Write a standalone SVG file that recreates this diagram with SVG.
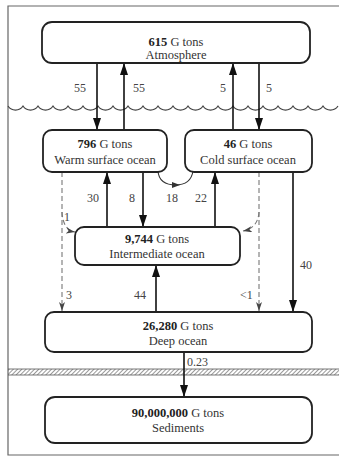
<svg xmlns="http://www.w3.org/2000/svg" width="339" height="456" viewBox="0 0 339 456">
<defs>
<style>
.box{fill:#fff;stroke:#222;stroke-width:1.8}
.t{font-family:"Liberation Serif","DejaVu Serif",serif;font-size:12.5px;fill:#333;text-anchor:middle}
.t b,.b{font-weight:bold;fill:#222}
.lab{font-family:"Liberation Serif","DejaVu Serif",serif;font-size:12px;fill:#444}
.ar{stroke:#111;stroke-width:1.6;fill:none;marker-end:url(#ah)}
.ds{stroke:#777;stroke-width:1.1;stroke-dasharray:5,3;fill:none;marker-end:url(#oh)}
.cv{stroke:#333;stroke-width:1.1;fill:none}
</style>
<marker id="ah" viewBox="0 0 12 8" refX="12" refY="4" markerWidth="12" markerHeight="9" markerUnits="userSpaceOnUse" orient="auto"><path d="M0,0 L12,4 L0,8 z" fill="#111"/></marker>
<marker id="oh" viewBox="0 0 9 6" refX="9" refY="3" markerWidth="9" markerHeight="6" markerUnits="userSpaceOnUse" orient="auto"><path d="M0,0 L9,3 L0,6 L2.5,3 z" fill="#444"/></marker>
<marker id="sh" viewBox="0 0 8 6" refX="4" refY="3" markerWidth="8" markerHeight="6" markerUnits="userSpaceOnUse" orient="auto"><path d="M0,0 L8,3 L0,6 z" fill="#333"/></marker>
<pattern id="hatch" patternUnits="userSpaceOnUse" width="3" height="3" patternTransform="rotate(45)"><line x1="0" y1="0" x2="0" y2="3" stroke="#555" stroke-width="1.2"/></pattern>
</defs>
<g id="frame">
<path d="M339,6 H8 V455 H339" fill="none" stroke="#666" stroke-width="1.2"/>
</g>
<g id="waves">
<path d="M8,106 a9,9 0 0 0 15,0 a9,9 0 0 0 15,0 a9,9 0 0 0 15,0 a9,9 0 0 0 15,0 a9,9 0 0 0 15,0 a9,9 0 0 0 15,0 a9,9 0 0 0 15,0 a9,9 0 0 0 15,0 a9,9 0 0 0 15,0 a9,9 0 0 0 15,0 a9,9 0 0 0 15,0 a9,9 0 0 0 15,0 a9,9 0 0 0 15,0 a9,9 0 0 0 15,0 a9,9 0 0 0 15,0 a9,9 0 0 0 15,0 a9,9 0 0 0 15,0 a9,9 0 0 0 15,0 a9,9 0 0 0 15,0 a9,9 0 0 0 15,0 a9,9 0 0 0 15,0 a9,9 0 0 0 15,0" fill="none" stroke="#444" stroke-width="1.2"/>
</g>
<g id="seabed">
<rect x="8" y="369" width="331" height="6" fill="url(#hatch)"/>
<line x1="8" y1="369" x2="339" y2="369" stroke="#555" stroke-width="0.8"/>
<line x1="8" y1="375" x2="339" y2="375" stroke="#555" stroke-width="0.8"/>
</g>
<g id="connectors">
<line class="ar" x1="97" y1="63" x2="97" y2="130"/>
<line class="ar" x1="124" y1="130" x2="124" y2="63"/>
<line class="ar" x1="233" y1="130" x2="233" y2="63"/>
<line class="ar" x1="259" y1="63" x2="259" y2="130"/>
<line class="ar" x1="107" y1="227" x2="107" y2="172"/>
<line class="ar" x1="143" y1="172" x2="143" y2="227"/>
<line class="ar" x1="215" y1="227" x2="215" y2="172"/>
<line class="ar" x1="293" y1="172" x2="293" y2="312"/>
<line class="ar" x1="156" y1="312" x2="156" y2="265"/>
<line class="ar" x1="184" y1="352" x2="184" y2="397"/>
<path class="cv" d="M158,171 Q159,185 176,185" marker-end="url(#sh)"/>
<path class="cv" d="M175,185 Q191,185 193,171"/>
<path class="ds" d="M62,172 V311"/>
<path class="ds" d="M62,212 Q63,230 75,232"/>
<path class="ds" d="M259,172 V311"/>
<path class="ds" d="M259,212 Q258,228 243,231"/>
<text class="lab" x="74" y="92">55</text>
<text class="lab" x="133" y="92">55</text>
<text class="lab" x="220" y="92">5</text>
<text class="lab" x="266" y="92">5</text>
<text class="lab" x="87" y="202">30</text>
<text class="lab" x="129" y="202">8</text>
<text class="lab" x="166" y="202">18</text>
<text class="lab" x="195" y="202">22</text>
<text class="lab" x="64" y="221">1</text>
<text class="lab" x="66" y="299">3</text>
<text class="lab" x="134" y="299">44</text>
<text class="lab" x="240" y="299">&lt;1</text>
<text class="lab" x="300" y="269">40</text>
<text class="lab" x="187" y="366">0.23</text>
</g>
<g id="atmosphere">
<rect class="box" x="42" y="22" width="268" height="41" rx="10"/>
<text class="t" x="176" y="46"><tspan class="b">615</tspan> G tons</text>
<text class="t" x="176" y="59">Atmosphere</text>
</g>
<g id="warm">
<rect class="box" x="43" y="130" width="124" height="42" rx="9"/>
<text class="t" x="105" y="148"><tspan class="b">796</tspan> G tons</text>
<text class="t" x="105" y="164">Warm surface ocean</text>
</g>
<g id="cold">
<rect class="box" x="185" y="130" width="127" height="42" rx="9"/>
<text class="t" x="248" y="148"><tspan class="b">46</tspan> G tons</text>
<text class="t" x="248" y="164">Cold surface ocean</text>
</g>
<g id="intermediate">
<rect class="box" x="75" y="227" width="165" height="38" rx="9"/>
<text class="t" x="157" y="243"><tspan class="b">9,744</tspan> G tons</text>
<text class="t" x="157" y="258">Intermediate ocean</text>
</g>
<g id="deep">
<rect class="box" x="45" y="312" width="267" height="40" rx="9"/>
<text class="t" x="178" y="330"><tspan class="b">26,280</tspan> G tons</text>
<text class="t" x="178" y="345">Deep ocean</text>
</g>
<g id="sediments">
<rect class="box" x="45" y="397" width="267" height="46" rx="10"/>
<text class="t" x="178" y="417"><tspan class="b">90,000,000</tspan> G tons</text>
<text class="t" x="178" y="432">Sediments</text>
</g>
</svg>
